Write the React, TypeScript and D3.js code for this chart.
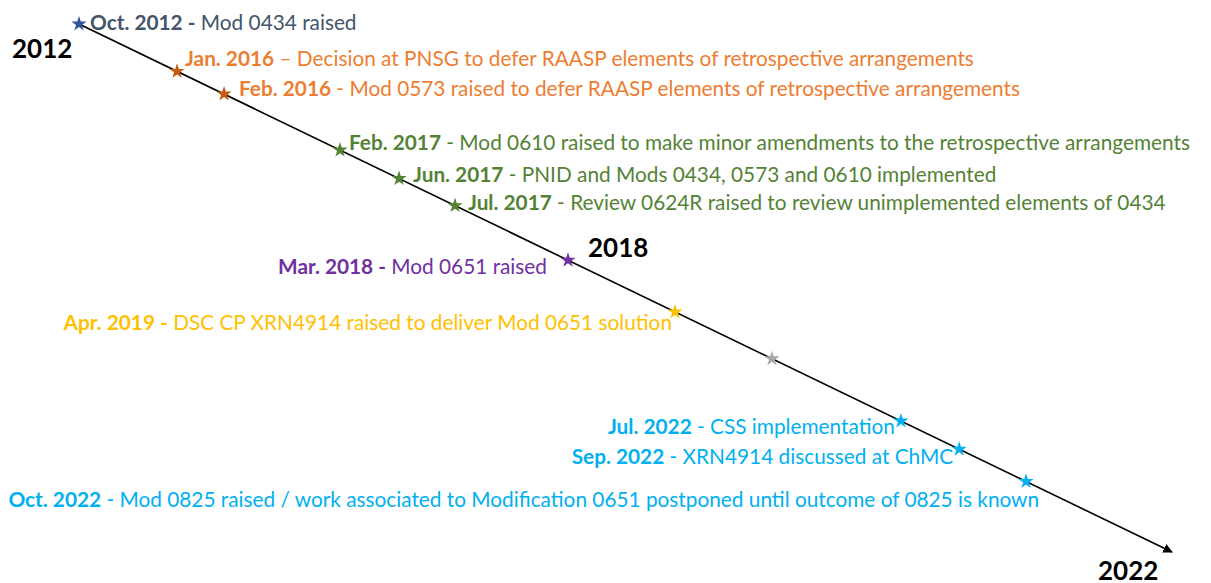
import * as d3 from "d3";

// timeline events (position = fraction along the arrow, 0 = start, 1 = arrow tip)
const eventBold = [
  "Oct. 2012 -", "Jan. 2016", "Feb. 2016", "Feb. 2017", "Jun. 2017", "Jul. 2017",
  "Mar. 2018 -", "Apr. 2019 -", "", "Jul. 2022", "Sep. 2022", "Oct. 2022",
];
const eventText = [
  " Mod 0434 raised",
  " – Decision at PNSG to defer RAASP elements of retrospective arrangements",
  " - Mod 0573 raised to defer RAASP elements of retrospective arrangements",
  " - Mod 0610 raised to make minor amendments to the retrospective arrangements",
  " - PNID and Mods 0434, 0573 and 0610 implemented",
  " - Review 0624R raised to review unimplemented elements of 0434",
  " Mod 0651 raised",
  " DSC CP XRN4914 raised to deliver Mod 0651 solution",
  "",
  " - CSS implementation",
  " - XRN4914 discussed at ChMC",
  " - Mod 0825 raised / work associated to Modification 0651 postponed until outcome of 0825 is known",
];
const eventPos = [0, 0.0897, 0.1327, 0.2388, 0.2928, 0.344, 0.4474, 0.5453, 0.634, 0.752, 0.8053, 0.8665];

const years = ["2012", "2018", "2022"];
const yearPos = [0, 0.4474, 1];

// styling
const textColors = ["#44546A", "#ED7D31", "#ED7D31", "#548235", "#548235", "#548235",
  "#7030A0", "#FFC000", "#A6A6A6", "#00B0F0", "#00B0F0", "#00B0F0"];
const starColors = ["#2F5597", "#C55A11", "#C55A11", "#548235", "#548235", "#548235",
  "#7030A0", "#FFC000", "#A6A6A6", "#00B0F0", "#00B0F0", "#00B0F0"];
// label offsets relative to the star: [dx, dy, anchor]
const labelLayout: [number, number, string][] = [
  [11, 6, "start"], [8, -5, "start"], [15, 2, "start"], [9, 0, "start"],
  [14, 3, "start"], [13, 4, "start"], [-21, 14, "end"], [-3, 18, "end"],
  [0, 0, "start"], [-6, 13, "end"], [-6, 15, "end"], [13, 25, "end"],
];
const yearLayout: [number, number][] = [[-67, 34], [20, -3], [-74, 28]];

const W = 1211, H = 583;
const start = { x: 79, y: 24 }, end = { x: 1172, y: 552 };

export default function App() {
  const x = d3.scaleLinear().domain([0, 1]).range([start.x, end.x]);
  const y = d3.scaleLinear().domain([0, 1]).range([start.y, end.y]);
  const star = d3.symbol().type(d3.symbolStar).size(72)();
  const font = "Lato, 'Open Sans', sans-serif";

  return (
    <svg width={W} height={H} style={{ position: "absolute", left: 0, top: 0, background: "#fff" }}>
      <defs>
        <marker id="arrow" viewBox="0 0 10 10" refX="9" refY="5" markerWidth="6" markerHeight="6" orient="auto">
          <path d="M0,0 L10,5 L0,10 z" fill="#000" />
        </marker>
      </defs>
      <line x1={x(0)} y1={y(0)} x2={x(1)} y2={y(1)} stroke="#000" strokeWidth={1.6} markerEnd="url(#arrow)" />

      {years.map((yr, i) => (
        <text key={yr} x={x(yearPos[i]) + yearLayout[i][0]} y={y(yearPos[i]) + yearLayout[i][1]}
          fontFamily={font} fontWeight="bold" fontSize={26} fill="#000">{yr}</text>
      ))}

      {eventPos.map((p, i) => (
        <g key={i}>
          <path d={star!} transform={`translate(${x(p)},${y(p)})`} fill={starColors[i]} />
          {eventBold[i] && (
            <text x={x(p) + labelLayout[i][0]} y={y(p) + labelLayout[i][1]} textAnchor={labelLayout[i][2]}
              fontFamily={font} fontSize={20.8} fill={textColors[i]}>
              <tspan fontWeight="bold">{eventBold[i]}</tspan>
              <tspan>{eventText[i]}</tspan>
            </text>
          )}
        </g>
      ))}
    </svg>
  );
}
